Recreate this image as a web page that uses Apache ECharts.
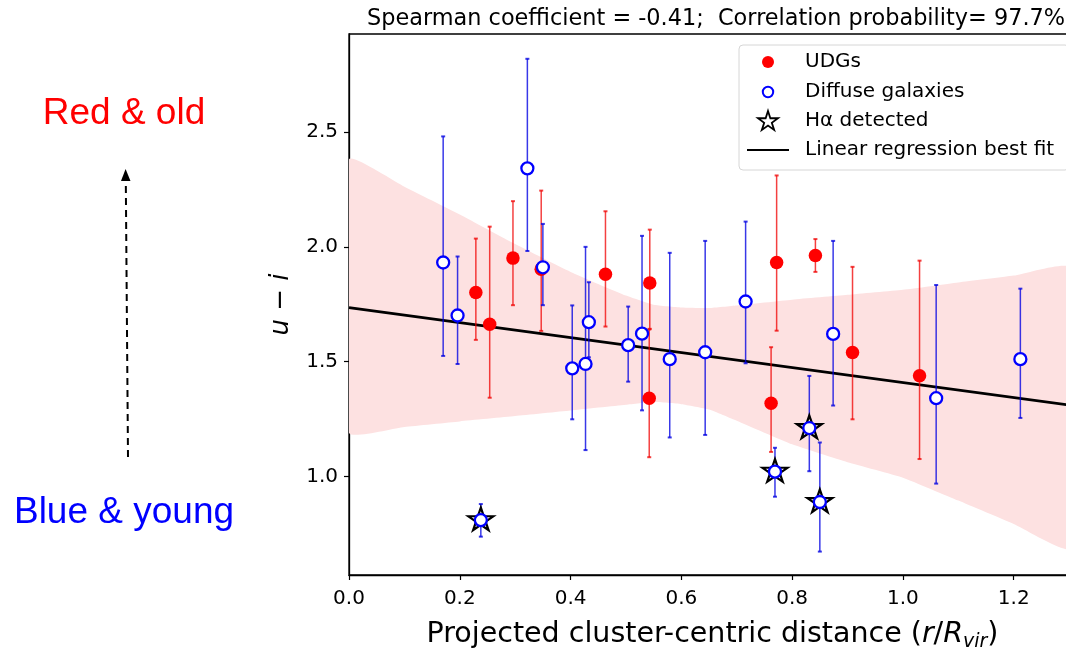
<!DOCTYPE html>
<html><head><meta charset="utf-8">
<script src="https://cdn.jsdelivr.net/npm/echarts@6/dist/echarts.min.js"></script>
<style>html,body{margin:0;padding:0;background:#fff}#c{width:1066px;height:648px}</style>
</head><body><div id="c"></div>
<script>
// ---- data ----
const udgX  = [0.229, 0.254, 0.296, 0.347, 0.463, 0.543, 0.542, 0.762, 0.772, 0.842, 0.909, 1.030];
const udgY  = [1.801, 1.663, 1.951, 1.903, 1.881, 1.843, 1.341, 1.319, 1.932, 1.962, 1.540, 1.439];
const udgLo = [1.595, 1.343, 1.746, 1.634, 1.653, 1.643, 1.084, 1.107, 1.635, 1.891, 1.249, 1.076];
const udgHi = [2.036, 2.088, 2.199, 2.245, 2.155, 2.075, 1.640, 1.563, 2.311, 2.034, 1.913, 1.940];

const difX  = [0.170, 0.196, 0.322, 0.350, 0.403, 0.427, 0.433, 0.504, 0.529, 0.579, 0.643, 0.716, 0.874, 1.060, 1.212, 0.238, 0.769, 0.831, 0.850];
const difY  = [1.932, 1.701, 2.342, 1.911, 1.471, 1.490, 1.672, 1.572, 1.622, 1.511, 1.541, 1.762, 1.621, 1.341, 1.511, 0.810, 1.021, 1.211, 0.889];
const difLo = [1.525, 1.490, 1.982, 1.746, 1.249, 1.115, 1.519, 1.413, 1.288, 1.170, 1.181, 1.493, 1.309, 0.969, 1.255, 0.738, 0.912, 1.023, 0.673];
const difHi = [2.481, 1.958, 2.819, 2.100, 1.745, 2.000, 1.846, 1.740, 2.048, 1.974, 2.026, 2.110, 2.026, 1.834, 1.818, 0.880, 1.125, 1.438, 1.148];

const haX = [0.238, 0.769, 0.831, 0.850];
const haY = [0.810, 1.021, 1.211, 0.889];

const fitX = [0, 1.298];
const fitY = [1.735, 1.312];

const bandX  = [0, 0.1, 0.2, 0.3, 0.4, 0.5, 0.55, 0.6, 0.65, 0.7, 0.8, 0.9, 1.0, 1.1, 1.2, 1.3];
const bandHi = [2.380, 2.262, 2.141, 2.012, 1.891, 1.788, 1.748, 1.736, 1.734, 1.745, 1.770, 1.791, 1.813, 1.845, 1.875, 1.910];
const bandLo = [1.191, 1.216, 1.240, 1.263, 1.287, 1.312, 1.324, 1.315, 1.292, 1.243, 1.140, 1.062, 0.995, 0.895, 0.793, 0.688];

const xTicks = [0.0, 0.2, 0.4, 0.6, 0.8, 1.0, 1.2];
const yTicks = [1.0, 1.5, 2.0, 2.5];

// ---- chart ----
const FONT = 'DejaVu Sans';
const chart = echarts.init(document.getElementById('c'), null, {renderer: 'canvas'});
const starPath = 'path://M100,0 L122.45,69.1 L195.1,69.1 L136.3,111.8 L158.8,180.9 L100,138.2 L41.2,180.9 L63.7,111.8 L4.9,69.1 L77.55,69.1 Z';

function errRender(color) {
  return function (params, api) {
    const x = api.value(0), lo = api.value(2), hi = api.value(3);
    const a = api.coord([x, lo]), b = api.coord([x, hi]);
    const c = 2;
    return {type: 'group', children: [
      {type: 'line', shape: {x1: a[0], y1: a[1], x2: b[0], y2: b[1]}, style: {stroke: color, lineWidth: 1.5}},
      {type: 'line', shape: {x1: a[0] - c, y1: a[1], x2: a[0] + c, y2: a[1]}, style: {stroke: color, lineWidth: 2}},
      {type: 'line', shape: {x1: b[0] - c, y1: b[1], x2: b[0] + c, y2: b[1]}, style: {stroke: color, lineWidth: 2}}
    ]};
  };
}

function starPoints(cx, cy, R) {
  const pts = [];
  for (let k = 0; k < 10; k++) {
    const r = k % 2 === 0 ? R : R * 0.382;
    const ang = (-90 + k * 36) * Math.PI / 180;
    pts.push([cx + r * Math.cos(ang), cy + r * Math.sin(ang)]);
  }
  return pts;
}

const legendItems = [
  {y: 62, text: 'UDGs'},
  {y: 92, text: 'Diffuse galaxies'},
  {y: 121, text: 'H\u03b1 detected'},
  {y: 150, text: 'Linear regression best fit'}
];

const graphics = [
  // left annotation
  {type: 'text', x: 124, y: 114, style: {text: 'Red & old', fill: '#ff0000', font: '37px "Liberation Sans"', textAlign: 'center', textVerticalAlign: 'middle'}},
  {type: 'text', x: 124, y: 513, style: {text: 'Blue & young', fill: '#0000ff', font: '37px "Liberation Sans"', textAlign: 'center', textVerticalAlign: 'middle'}},
  {type: 'line', shape: {x1: 128, y1: 457, x2: 125.8, y2: 180}, style: {stroke: '#000', lineWidth: 2, lineDash: [7, 5]}},
  {type: 'polygon', shape: {points: [[125.6, 169], [121, 181], [130.5, 181]]}, style: {fill: '#000'}},
  // legend box
  {type: 'rect', shape: {x: 739, y: 45, width: 330, height: 125, r: 4}, style: {fill: 'rgba(255,255,255,0.85)', stroke: '#d6d6d6', lineWidth: 1}, z: 100},
  {type: 'circle', shape: {cx: 768, cy: 62, r: 6}, style: {fill: '#ff0000'}, z: 101},
  {type: 'circle', shape: {cx: 768, cy: 92, r: 5.2}, style: {fill: '#fff', stroke: '#0000ff', lineWidth: 2}, z: 101},
  {type: 'polygon', shape: {points: starPoints(768, 121.5, 10.5)}, style: {fill: '#fff', stroke: '#000', lineWidth: 1.8}, z: 101},
  {type: 'line', shape: {x1: 747, y1: 150, x2: 789, y2: 150}, style: {stroke: '#000', lineWidth: 2}, z: 101}
].concat(legendItems.map(it => ({
  type: 'text', x: 805, y: it.y, z: 101,
  style: {text: it.text, fill: '#000', font: '20px "' + FONT + '"', textVerticalAlign: 'middle'}
})));

const option = {
  animation: false,
  backgroundColor: '#fff',
  title: {
    text: 'Spearman coefficient = -0.41;  Correlation probability= 97.7%',
    left: 362, top: 3,
    textStyle: {fontFamily: FONT, fontWeight: 'normal', fontSize: 22.4, color: '#000'}
  },
  grid: {left: 349, top: 34, right: -2, bottom: 73, containLabel: false, outerBoundsMode: 'none',
         show: true, borderColor: '#000', borderWidth: 1.3, backgroundColor: 'transparent'},
  xAxis: {
    type: 'value', min: 0, max: 1.298,
    axisLine: {show: true, onZero: false, lineStyle: {color: '#000', width: 1.3}},
    axisTick: {show: true, customValues: xTicks, length: 5, lineStyle: {color: '#000', width: 1.2}},
    axisLabel: {customValues: xTicks, formatter: v => v.toFixed(1), fontFamily: FONT, fontSize: 20, color: '#000', margin: 14},
    splitLine: {show: false},
    name: 'Projected cluster-centric distance ({it|r}/{it|R}{sub|vir})',
    nameLocation: 'middle', nameGap: 43,
    nameTextStyle: {fontFamily: FONT, fontSize: 28.5, color: '#000', padding: [0, 0, 0, 8],
      rich: {it: {fontFamily: FONT, fontSize: 28.5, fontStyle: 'italic', color: '#000'},
             sub: {fontFamily: FONT, fontSize: 19, fontStyle: 'italic', color: '#000', padding: [15, 0, 0, 0]}}}
  },
  yAxis: {
    type: 'value', min: 0.571, max: 2.927,
    axisLine: {show: true, onZero: false, lineStyle: {color: '#000', width: 1.3}},
    axisTick: {show: true, customValues: yTicks, length: 5, lineStyle: {color: '#000', width: 1.2}},
    axisLabel: {customValues: yTicks, formatter: v => v.toFixed(1), fontFamily: FONT, fontSize: 20, color: '#000', margin: 11},
    splitLine: {show: false},
    name: '{it|u} \u2212 {it|i}',
    nameLocation: 'middle', nameGap: 55, nameRotate: 90,
    nameTextStyle: {fontFamily: FONT, fontSize: 26, color: '#000',
      rich: {it: {fontFamily: FONT, fontSize: 26, fontStyle: 'italic', color: '#000'}}}
  },
  graphic: graphics,
  series: [
    {
      type: 'custom', name: 'band', z: 1, clip: true, silent: true,
      data: [[0, 1]],
      renderItem: function (params, api) {
        const pts = [];
        for (let i = 0; i < bandX.length; i++) pts.push(api.coord([bandX[i], bandHi[i]]));
        for (let i = bandX.length - 1; i >= 0; i--) pts.push(api.coord([bandX[i], bandLo[i]]));
        return {type: 'polygon', shape: {points: pts, smooth: 0.15}, style: {fill: '#fde1e1'}};
      }
    },
    {
      type: 'line', name: 'Linear regression best fit', z: 3, symbol: 'none', clip: true,
      data: fitX.map((x, i) => [x, fitY[i]]),
      lineStyle: {color: '#000', width: 2.8}
    },
    {
      type: 'custom', name: 'udgErr', z: 4, data: udgX.map((x, i) => [x, udgY[i], udgLo[i], udgHi[i]]),
      renderItem: errRender('rgba(240,0,0,0.75)')
    },
    {
      type: 'custom', name: 'difErr', z: 4, data: difX.map((x, i) => [x, difY[i], difLo[i], difHi[i]]),
      renderItem: errRender('rgba(0,0,225,0.78)')
    },
    {
      type: 'scatter', name: 'UDGs', z: 5, symbol: 'circle', symbolSize: 13.5,
      data: udgX.map((x, i) => [x, udgY[i]]),
      itemStyle: {color: '#ff0000', opacity: 1}
    },
    {
      type: 'scatter', name: 'H\u03b1 detected', z: 5, symbol: starPath, symbolSize: [25, 23.8], symbolKeepAspect: true,
      symbolOffset: [0, -1.2],
      data: haX.map((x, i) => [x, haY[i]]),
      itemStyle: {color: '#ffffff', borderColor: '#000', borderWidth: 2.2, opacity: 1}
    },
    {
      type: 'scatter', name: 'Diffuse galaxies', z: 6, symbol: 'circle', symbolSize: 12,
      data: difX.map((x, i) => [x, difY[i]]),
      itemStyle: {color: '#ffffff', borderColor: '#0000ff', borderWidth: 2.3, opacity: 1}
    }
  ]
};
chart.setOption(option);
</script>
</body></html>
